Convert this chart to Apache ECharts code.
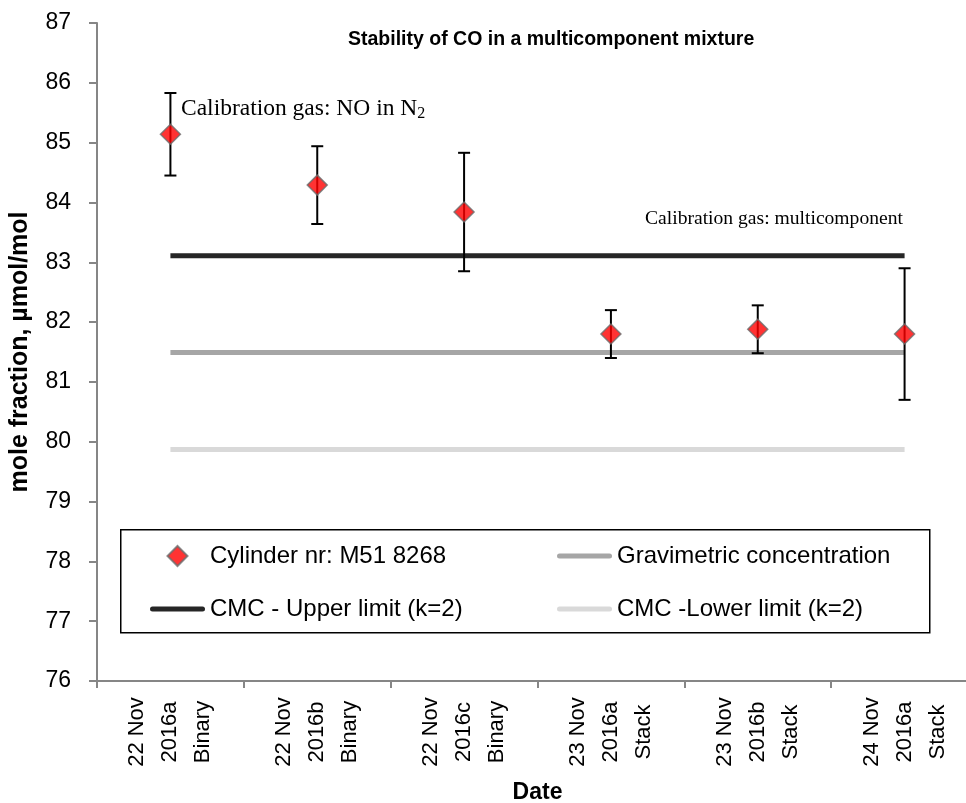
<!DOCTYPE html>
<html>
<head>
<meta charset="utf-8">
<script src="https://cdn.jsdelivr.net/npm/echarts@6/dist/echarts.min.js"></script>
<style>html,body{margin:0;padding:0;background:#fff}#c{width:966px;height:803px}</style>
</head>
<body>
<div id="c"></div>
<script>
// ---- data ----
var categories = ['22 Nov\n2016a\nBinary', '22 Nov\n2016b\nBinary', '22 Nov\n2016c\nBinary',
                  '23 Nov\n2016a\nStack', '23 Nov\n2016b\nStack', '24 Nov\n2016a\nStack'];
var measured = [85.14, 84.29, 83.84, 81.80, 81.88, 81.80];
var uncertainty = [0.69, 0.65, 0.99, 0.40, 0.40, 1.10];
var gravimetric = [81.49, 81.49, 81.49, 81.49, 81.49, 81.49];
var upperLimit = [83.11, 83.11, 83.11, 83.11, 83.11, 83.11];
var lowerLimit = [79.87, 79.87, 79.87, 79.87, 79.87, 79.87];
var yTicks = { min: 76, max: 87, interval: 1 };
var seriesNames = ['Cylinder nr: M51 8268', 'Gravimetric concentration', 'CMC - Upper limit (k=2)', 'CMC -Lower limit (k=2)'];

var errData = measured.map(function (v, i) { return [i, v - uncertainty[i], v + uncertainty[i]]; });

var FONT = '"Liberation Sans", Arial, sans-serif';
var SERIF = '"Liberation Serif", "Times New Roman", serif';
var DIAMOND = 'path://M10,0L20,10L10,20L0,10Z';
var BAR = 'path://M2.5,0L52.5,0A2.5,2.5,0,0,1,52.5,5L2.5,5A2.5,2.5,0,0,1,2.5,0Z';
var chart = echarts.init(document.getElementById('c'), null, { renderer: 'canvas' });

var legendText = { fontFamily: FONT, fontSize: 24, color: '#000', lineHeight: 24 };

chart.setOption({
  animation: false,
  backgroundColor: '#ffffff',
  title: {
    text: 'Stability of CO in a multicomponent mixture',
    left: 348, top: 30, padding: 0,
    textStyle: { fontFamily: FONT, fontWeight: 'bold', fontSize: 19.5, color: '#000' }
  },
  grid: { left: 97, top: 23, height: 658, width: 881, outerBoundsMode: 'none', containLabel: false },
  xAxis: {
    type: 'category',
    data: categories,
    boundaryGap: true,
    name: 'Date',
    nameLocation: 'middle',
    nameGap: 100,
    nameTextStyle: { fontFamily: FONT, fontWeight: 'bold', fontSize: 23, color: '#000' },
    axisLine: { lineStyle: { color: '#868686', width: 2 } },
    axisTick: { show: true, length: 7, lineStyle: { color: '#868686', width: 2 } },
    axisLabel: {
      rotate: 90, align: 'center', verticalAlign: 'middle', margin: 51,
      lineHeight: 33, fontFamily: FONT, fontSize: 22, color: '#000', interval: 0
    },
    splitLine: { show: false }
  },
  yAxis: {
    type: 'value',
    min: yTicks.min, max: yTicks.max, interval: yTicks.interval,
    name: 'mole fraction, µmol/mol',
    nameLocation: 'middle',
    nameGap: 64,
    nameTextStyle: { fontFamily: FONT, fontWeight: 'bold', fontSize: 25, color: '#000' },
    axisLine: { show: true, lineStyle: { color: '#868686', width: 2 } },
    axisTick: { show: true, length: 8, lineStyle: { color: '#868686', width: 2 } },
    axisLabel: { fontFamily: FONT, fontSize: 23, color: '#000', margin: 26 },
    splitLine: { show: false }
  },
  legend: [
    {
      data: [{ name: seriesNames[0], icon: DIAMOND }, { name: seriesNames[2], icon: BAR }],
      orient: 'vertical', left: 150, top: 544, padding: 0, symbolKeepAspect: true,
      itemWidth: 55, itemHeight: 20, itemGap: 29, textStyle: legendText
    },
    {
      data: [{ name: seriesNames[1], icon: BAR }, { name: seriesNames[3], icon: BAR }],
      orient: 'vertical', left: 557, top: 544, padding: 0, symbolKeepAspect: true,
      itemWidth: 55, itemHeight: 20, itemGap: 29, textStyle: legendText
    }
  ],
  graphic: [
    { type: 'rect', left: 120, top: 529, z: 0,
      shape: { width: 809, height: 103 },
      style: { fill: '#fff', stroke: '#000', lineWidth: 1.5 } },
    { type: 'text', left: 181, top: 97, z: 10,
      style: {
        text: '{a|Calibration gas: NO in N}{s|2}',
        rich: {
          a: { fontFamily: SERIF, fontSize: 23.5, color: '#000' },
          s: { fontFamily: SERIF, fontSize: 16, color: '#000', padding: [9, 0, 0, 0] }
        }
      } },
    { type: 'text', left: 645, top: 209, z: 10,
      style: { text: 'Calibration gas: multicomponent', fontFamily: SERIF, fontSize: 19.6, fill: '#000' } }
  ],
  series: [
    {
      name: seriesNames[0], type: 'scatter', data: measured, z: 5,
      symbol: 'diamond', symbolSize: 20,
      itemStyle: { color: '#ff0000', borderColor: '#6b6b6b', borderWidth: 1.5 }
    },
    {
      name: seriesNames[1], type: 'line', data: gravimetric, symbol: 'none', z: 2,
      lineStyle: { color: '#a6a6a6', width: 5 }, itemStyle: { color: '#a6a6a6' }
    },
    {
      name: seriesNames[2], type: 'line', data: upperLimit, symbol: 'none', z: 2,
      lineStyle: { color: '#262626', width: 5 }, itemStyle: { color: '#262626' }
    },
    {
      name: seriesNames[3], type: 'line', data: lowerLimit, symbol: 'none', z: 2,
      lineStyle: { color: '#d9d9d9', width: 5 }, itemStyle: { color: '#d9d9d9' }
    },
    {
      name: 'error', type: 'custom', data: errData, z: 3,
      renderItem: function (params, api) {
        var x = api.value(0);
        var lo = api.coord([x, api.value(1)]);
        var hi = api.coord([x, api.value(2)]);
        var hw = 6;
        var st = { stroke: '#000', lineWidth: 2, fill: null };
        return {
          type: 'group',
          children: [
            { type: 'line', shape: { x1: lo[0], y1: lo[1], x2: hi[0], y2: hi[1] }, style: st },
            { type: 'line', shape: { x1: lo[0] - hw, y1: lo[1], x2: lo[0] + hw, y2: lo[1] }, style: st },
            { type: 'line', shape: { x1: hi[0] - hw, y1: hi[1], x2: hi[0] + hw, y2: hi[1] }, style: st }
          ]
        };
      },
      encode: { x: 0, y: [1, 2] },
      silent: true
    }
  ]
});
</script>
</body>
</html>
